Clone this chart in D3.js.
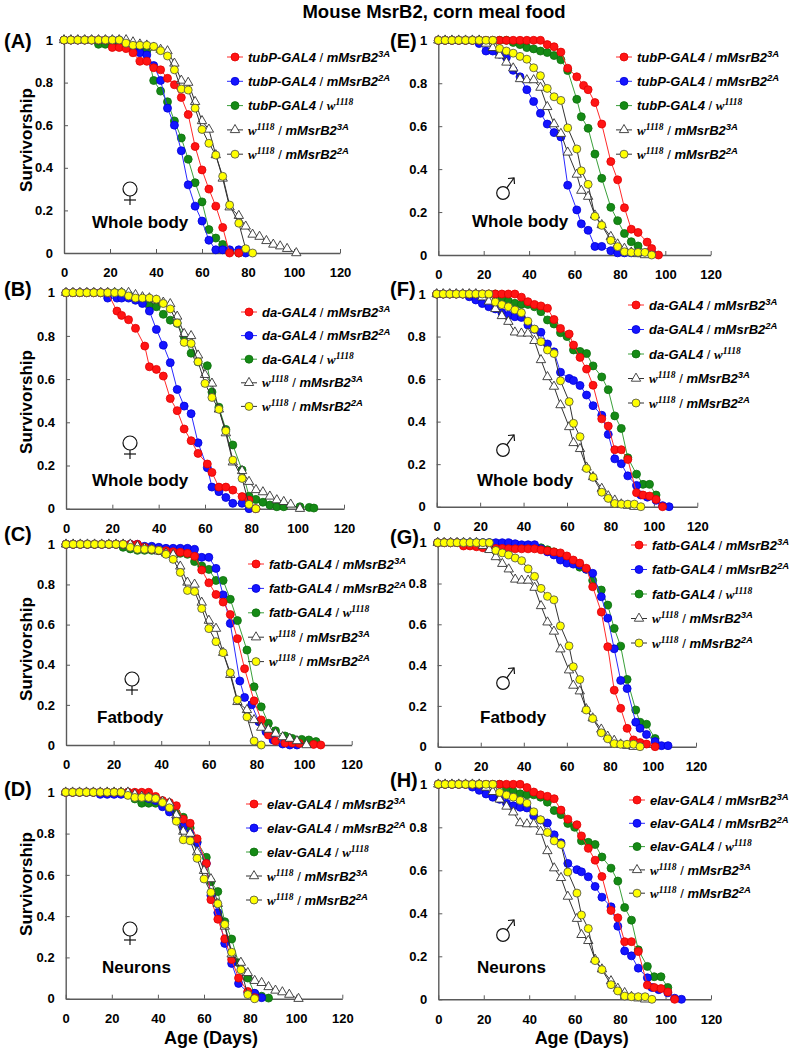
<!DOCTYPE html>
<html>
<head>
<meta charset="utf-8">
<script src="https://cdn.jsdelivr.net/npm/d3@7"></script>
<style>
  body { margin: 0; background: #fff; }
</style>
</head>
<body>
<svg id="fig" width="789" height="1050"></svg>
<script>
// ---- survival data, [age in days, survivorship] ----
// shared female controls (A-D)
var femW3A = [[0,1],[3,1],[6,1],[9,1],[12,1],[15,1],[18,1],[21,1],[24,1],[27,1],[30,0.99],[33,0.98],[36,0.975],[39,0.965],[42,0.955],[45,0.948],[48,0.89],[51,0.81],[54,0.8],[57,0.71],[60,0.62],[63,0.58],[66,0.46],[69,0.35],[72,0.215],[76,0.175],[79,0.125],[82,0.087],[85,0.077],[88,0.057],[91,0.04],[94,0.032],[97,0.02],[101,0]];
var femW2A = [[0,1],[3,1],[6,1],[9,1],[12,1],[15,1],[18,1],[21,1],[24,1],[27,0.985],[30,0.975],[33,0.975],[36,0.975],[39,0.97],[42,0.95],[45,0.925],[48,0.86],[51,0.77],[54,0.765],[57,0.68],[60,0.58],[63,0.515],[66,0.46],[69,0.36],[72,0.225],[76,0.14],[79,0.02],[82,0]];
// shared male controls (E-H)
var malW3A = [[0,1],[3,1],[6,1],[9,1],[12,1],[15,1],[18,1],[21,0.985],[24,0.965],[27,0.93],[30,0.897],[33,0.87],[36,0.82],[39,0.815],[42,0.815],[45,0.78],[48,0.69],[51,0.61],[54,0.565],[57,0.478],[61,0.375],[63,0.3],[66,0.272],[69,0.185],[72,0.14],[76,0.085],[79,0.05],[82,0.03],[85,0.012],[88,0.005],[91,0]];
var malW2A = [[0,1],[3,1],[6,1],[9,1],[12,1],[15,1],[18,1],[21,1],[24,1],[27,0.962],[30,0.95],[33,0.94],[36,0.925],[39,0.912],[42,0.872],[45,0.835],[48,0.776],[51,0.737],[54,0.72],[57,0.592],[61,0.494],[63,0.392],[66,0.329],[69,0.18],[72,0.138],[76,0.068],[79,0.039],[82,0.015],[85,0.012],[88,0.012],[91,0.012],[94,0]];

// (A) tubP female
var tubFemRed = [[0,1],[3,1],[6,1],[9,1],[12,1],[15,1],[18,1],[21,0.965],[24,0.965],[27,0.96],[30,0.94],[33,0.9],[36,0.9],[39,0.87],[42,0.86],[45,0.82],[48,0.79],[51,0.73],[54,0.65],[57,0.5],[60,0.39],[63,0.3],[66,0.22],[69,0.12],[72,0],[76,0]];
var tubFemBlue = [[0,1],[3,1],[6,1],[9,1],[12,1],[15,1],[18,1],[21,1],[24,1],[27,0.98],[30,0.96],[33,0.94],[36,0.93],[39,0.88],[42,0.81],[45,0.68],[48,0.6],[51,0.48],[54,0.32],[57,0.22],[60,0.15],[63,0.06],[66,0.015],[69,0.015],[72,0.015],[76,0.015],[79,0]];
var tubFemGreen = [[0,1],[3,1],[6,1],[9,1],[12,1],[15,0.98],[18,0.98],[21,0.98],[24,0.98],[27,0.975],[30,0.965],[33,0.96],[36,0.95],[39,0.81],[42,0.76],[45,0.71],[48,0.62],[51,0.54],[54,0.44],[57,0.33],[60,0.24],[63,0.11],[66,0.07],[69,0.04],[72,0.01],[76,0]];
// (E) tubP male
var tubMalRed = [[0,1],[3,1],[6,1],[9,1],[12,1],[15,1],[18,1],[21,1],[24,1],[27,1],[30,1],[33,1],[36,1],[39,1],[42,1],[45,1],[48,0.98],[51,0.97],[54,0.945],[57,0.87],[61,0.83],[64,0.79],[66,0.77],[69,0.71],[72,0.61],[76,0.435],[79,0.35],[82,0.22],[85,0.12],[88,0.105],[92,0.06],[94,0.03],[97,0]];
var tubMalBlue = [[0,1],[3,1],[6,1],[9,1],[12,1],[15,1],[18,0.985],[21,0.95],[24,0.95],[27,0.935],[30,0.92],[33,0.86],[36,0.83],[39,0.77],[42,0.715],[45,0.66],[48,0.61],[51,0.57],[54,0.55],[57,0.325],[61,0.21],[63,0.145],[66,0.115],[69,0.04],[72,0.04],[76,0.02],[79,0.01],[82,0.01],[85,0.01],[88,0.01],[91,0.01],[94,0.01]];
var tubMalGreen = [[0,1],[3,1],[6,1],[9,1],[12,1],[15,1],[18,1],[21,1],[24,1],[27,1],[30,1],[33,0.99],[36,0.98],[39,0.966],[42,0.96],[45,0.95],[48,0.943],[51,0.929],[54,0.909],[57,0.859],[61,0.725],[63,0.644],[66,0.59],[69,0.47],[72,0.357],[76,0.222],[79,0.16],[82,0.1],[85,0.062],[88,0.042],[92,0.011],[94,0.008]];
// (B) da female
var daFemRed = [[0,1],[3,1],[6,1],[9,1],[12,1],[15,1],[18,1],[22,0.915],[24,0.895],[27,0.875],[30,0.835],[34,0.753],[36,0.657],[39,0.645],[42,0.614],[45,0.51],[48,0.454],[51,0.369],[54,0.315],[57,0.256],[61,0.207],[63,0.168],[66,0.1],[69,0.1],[72,0.086],[76,0.056],[79,0.04],[82,0]];
var daFemBlue = [[0,1],[3,1],[6,1],[9,1],[12,1],[15,1],[18,0.975],[22,0.975],[24,0.975],[27,0.975],[30,0.965],[33,0.95],[36,0.915],[39,0.83],[42,0.757],[45,0.676],[48,0.552],[51,0.475],[54,0.44],[57,0.305],[61,0.19],[63,0.1],[66,0.079],[69,0.052],[72,0.025],[76,0.025],[79,0]];
var daFemGreen = [[0,1],[3,1],[6,1],[9,1],[12,1],[15,1],[18,1],[21,1],[24,1],[27,0.99],[30,0.975],[33,0.96],[36,0.94],[39,0.935],[42,0.9],[45,0.873],[48,0.858],[51,0.796],[54,0.72],[57,0.68],[61,0.662],[63,0.54],[66,0.47],[69,0.367],[72,0.295],[76,0.179],[79,0.058],[82,0.043],[85,0.03],[88,0.017],[91,0.009],[94,0.009],[101,0.009],[105,0.006],[107,0.003]];
// (F) da male, also shown again in (H)
var daMalRed = [[0,1],[3,1],[6,1],[9,1],[12,1],[15,1],[18,1],[21,1],[24,1],[27,1],[30,1],[33,1],[36,1],[39,0.985],[42,0.964],[45,0.951],[48,0.944],[51,0.933],[54,0.88],[57,0.838],[61,0.812],[63,0.76],[66,0.702],[69,0.647],[72,0.571],[76,0.413],[79,0.379],[82,0.268],[85,0.268],[88,0.222],[92,0.066],[95,0.055],[98,0.05],[101,0.034],[104,0]];
var daMalBlue = [[0,1],[3,1],[6,1],[9,1],[12,1],[15,0.987],[18,0.972],[21,0.955],[24,0.94],[27,0.93],[30,0.912],[33,0.9],[36,0.893],[39,0.89],[42,0.854],[45,0.834],[48,0.82],[51,0.765],[54,0.728],[57,0.632],[61,0.603],[63,0.593],[66,0.57],[69,0.525],[72,0.475],[76,0.43],[79,0.34],[82,0.225],[85,0.202],[88,0.145],[92,0.1],[94,0.055],[97,0.045],[101,0.03],[104,0.005],[107,0]];
var daMalGreen = [[0,1],[3,1],[6,1],[9,1],[12,1],[15,1],[18,1],[21,1],[24,1],[27,1],[30,0.98],[33,0.967],[36,0.956],[39,0.951],[42,0.951],[45,0.94],[48,0.917],[51,0.878],[54,0.859],[57,0.818],[60,0.8],[63,0.737],[66,0.73],[69,0.72],[72,0.662],[76,0.61],[79,0.55],[82,0.427],[85,0.368],[88,0.23],[92,0.153],[95,0.105],[98,0.105],[101,0.055]];
// (C) fatb female
var fatFemRed = [[0,1],[3,1],[6,1],[9,1],[12,1],[15,1],[18,1],[21,1],[24,1],[27,1],[30,1],[33,0.985],[36,0.975],[39,0.97],[42,0.968],[45,0.963],[48,0.96],[51,0.955],[54,0.94],[57,0.872],[60,0.808],[63,0.75],[66,0.712],[69,0.65],[72,0.53],[75,0.38],[79,0.22],[82,0.125],[85,0.05],[88,0.02],[92,0.01],[95,0.01],[98,0.008],[104,0.003],[107,0]];
var fatFemBlue = [[0,1],[3,1],[6,1],[9,1],[12,1],[15,1],[18,1],[21,1],[24,1],[27,1],[30,1],[33,0.99],[36,0.99],[39,0.985],[42,0.98],[45,0.98],[48,0.98],[51,0.98],[54,0.975],[57,0.935],[60,0.935],[63,0.88],[66,0.748],[69,0.606],[73,0.319],[75,0.237],[78,0.2],[81,0.116],[84,0.066],[87,0.025],[91,0.005],[94,0],[97,0]];
var fatFemGreen = [[0,1],[3,1],[6,1],[9,1],[12,1],[15,1],[18,1],[21,1],[24,0.985],[27,0.977],[30,0.97],[33,0.97],[36,0.97],[39,0.968],[42,0.965],[45,0.96],[48,0.955],[51,0.95],[54,0.914],[57,0.892],[60,0.875],[63,0.82],[66,0.82],[69,0.726],[72,0.62],[76,0.473],[79,0.29],[82,0.19],[85,0.108],[88,0.071],[92,0.045],[95,0.033],[99,0.028],[102,0.025],[105,0.017]];
// (G) fatb male
var fatMalRed = [[0,1],[3,1],[6,1],[9,1],[12,0.984],[15,0.984],[18,0.98],[21,0.975],[24,0.975],[27,0.972],[30,0.972],[33,0.97],[36,0.97],[39,0.97],[42,0.97],[45,0.97],[48,0.965],[51,0.96],[54,0.955],[57,0.95],[60,0.935],[63,0.915],[66,0.9],[69,0.875],[72,0.784],[76,0.66],[79,0.49],[82,0.277],[85,0.188],[88,0.09],[91,0.033],[94,0.02],[97,0.013],[101,0]];
var fatMalBlue = [[0,1],[3,1],[6,1],[9,1],[12,1],[15,1],[18,1],[21,1],[24,1],[27,1],[30,1],[33,1],[36,0.995],[39,0.99],[42,0.99],[45,0.99],[48,0.97],[51,0.955],[54,0.94],[57,0.915],[60,0.9],[63,0.895],[66,0.89],[69,0.87],[72,0.85],[76,0.735],[79,0.63],[82,0.48],[85,0.325],[88,0.285],[92,0.12],[94,0.09],[97,0.06],[101,0.025],[104,0.005],[107,0.005]];
var fatMalGreen = [[0,1],[3,1],[6,1],[9,1],[12,1],[15,1],[18,1],[21,1],[24,1],[27,0.99],[30,0.99],[33,0.99],[36,0.985],[39,0.985],[42,0.98],[45,0.98],[48,0.975],[51,0.965],[54,0.955],[57,0.93],[60,0.91],[63,0.9],[66,0.88],[69,0.87],[72,0.815],[76,0.768],[79,0.694],[82,0.58],[85,0.493],[88,0.33],[92,0.18],[94,0.12],[97,0.11],[101,0.04]];
// (D) elav female
var elavFemRed = [[0,1],[3,1],[6,1],[9,1],[12,1],[15,1],[18,1],[21,1],[24,1],[27,1],[30,1],[33,1],[36,1],[39,0.98],[42,0.96],[45,0.95],[48,0.935],[51,0.87],[54,0.85],[57,0.775],[61,0.655],[63,0.48],[66,0.385],[69,0.29],[72,0.19],[75,0.1],[79,0.035],[82,0.005]];
var elavFemBlue = [[0,1],[3,1],[6,1],[9,1],[12,1],[15,0.99],[18,0.99],[21,0.99],[24,0.99],[27,0.99],[30,0.985],[33,0.98],[36,0.97],[39,0.96],[42,0.93],[45,0.905],[48,0.87],[51,0.834],[54,0.8],[57,0.756],[61,0.655],[63,0.5],[66,0.417],[69,0.268],[72,0.171],[75,0.074],[79,0.03],[82,0.026],[85,0.005]];
var elavFemGreen = [[0,1],[3,1],[6,1],[9,1],[12,1],[15,1],[18,1],[21,1],[24,1],[27,1],[30,0.968],[33,0.947],[36,0.947],[39,0.947],[42,0.945],[45,0.922],[48,0.9],[51,0.879],[54,0.827],[57,0.761],[61,0.685],[63,0.567],[66,0.519],[69,0.373],[72,0.289],[75,0.174],[79,0.1],[82,0.025],[85,0.012],[88,0.003]];

var xTicks = [0, 20, 40, 60, 80, 100, 120];
var yTicks = [0, 0.2, 0.4, 0.6, 0.8, 1];

var FONT = "'Liberation Sans', Arial, Helvetica, sans-serif";

var styles = {
  red:   {line: '#ff2a2a', fill: '#ff1414', stroke: '#e00000', shape: 'circle'},
  blue:  {line: '#2a2aff', fill: '#1414ff', stroke: '#0000d8', shape: 'circle'},
  green: {line: '#3aa03a', fill: '#158a15', stroke: '#0d700d', shape: 'circle'},
  tri:   {line: '#333333', fill: '#ffffff', stroke: '#333333', shape: 'triangle'},
  yel:   {line: '#333333', fill: '#ffff00', stroke: '#4a4a4a', shape: 'circle'}
};

var panels = [
  {tag: '(A)', tagX: 4, tagY: 48, left: 64, right: 340, top: 40, bottom: 253, driver: 'tubP-GAL4', female: true,
   tissue: 'Whole body', tissueX: 92, tissueY: 222, sexX: 130, sexY: 193, legX: 235, legY: 57, legDy: 24.3, yTitleY: 140,
   red: tubFemRed, blue: tubFemBlue, green: tubFemGreen, tri: femW3A, yel: femW2A},
  {tag: '(B)', tagX: 4, tagY: 296, left: 66, right: 344, top: 292.7, bottom: 508.7, driver: 'da-GAL4', female: true,
   tissue: 'Whole body', tissueX: 92, tissueY: 480, sexX: 130, sexY: 447, legX: 249, legY: 312, legDy: 23.6, yTitleY: 402,
   red: daFemRed, blue: daFemBlue, green: daFemGreen, tri: femW3A, yel: femW2A},
  {tag: '(C)', tagX: 4, tagY: 541, left: 66, right: 351.7, top: 544.3, bottom: 745, driver: 'fatb-GAL4', female: true,
   tissue: 'Fatbody', tissueX: 97, tissueY: 717, sexX: 132, sexY: 683, legX: 256, legY: 564, legDy: 24.4, yTitleY: 649,
   red: fatFemRed, blue: fatFemBlue, green: fatFemGreen, tri: femW3A, yel: femW2A},
  {tag: '(D)', tagX: 4, tagY: 796, left: 65.7, right: 342.3, top: 792.3, bottom: 998.7, driver: 'elav-GAL4', female: true,
   tissue: 'Neurons', tissueX: 102, tissueY: 967, sexX: 130, sexY: 933, legX: 254, legY: 804, legDy: 24, yTitleY: 884,
   red: elavFemRed, blue: elavFemBlue, green: elavFemGreen, tri: femW3A, yel: femW2A, xTitle: true},
  {tag: '(E)', tagX: 390, tagY: 48, left: 438.3, right: 710.7, top: 40.3, bottom: 255, driver: 'tubP-GAL4', female: false,
   tissue: 'Whole body', tissueX: 472, tissueY: 221, sexX: 505, sexY: 188, legX: 624, legY: 57, legDy: 24.3,
   red: tubMalRed, blue: tubMalBlue, green: tubMalGreen, tri: malW3A, yel: malW2A},
  {tag: '(F)', tagX: 390, tagY: 296, left: 436.7, right: 697.3, top: 294, bottom: 506.7, driver: 'da-GAL4', female: false,
   tissue: 'Whole body', tissueX: 477, tissueY: 480, sexX: 505, sexY: 445, legX: 636, legY: 305, legDy: 24.5,
   red: daMalRed, blue: daMalBlue, green: daMalGreen, tri: malW3A, yel: malW2A},
  {tag: '(G)', tagX: 390, tagY: 544, left: 437.7, right: 696, top: 542.7, bottom: 746.7, driver: 'fatb-GAL4', female: false,
   tissue: 'Fatbody', tissueX: 480, tissueY: 717, sexX: 505, sexY: 678, legX: 639, legY: 545, legDy: 24.5,
   red: fatMalRed, blue: fatMalBlue, green: fatMalGreen, tri: malW3A, yel: malW2A},
  {tag: '(H)', tagX: 390, tagY: 787, left: 438.3, right: 711, top: 784.3, bottom: 999.3, driver: 'elav-GAL4', female: false,
   tissue: 'Neurons', tissueX: 477, tissueY: 967, sexX: 505, sexY: 930, legX: 637, legY: 800, legDy: 23.3,
   red: daMalRed, blue: daMalBlue, green: daMalGreen, tri: malW3A, yel: malW2A, xTitle: true}
];

var svg = d3.select("#fig");

svg.append("text")
  .attr("x", 434).attr("y", 18)
  .attr("text-anchor", "middle")
  .style("font-family", FONT).style("font-weight", "bold").style("font-size", "18.5px")
  .text("Mouse MsrB2, corn meal food");

function styleAxis(sel) {
  sel.attr("font-family", null).attr("font-size", null);
  sel.select(".domain").attr("stroke", "#5a5a5a").attr("stroke-width", 1.4);
  sel.selectAll(".tick line").attr("stroke", "#5a5a5a").attr("stroke-width", 1);
  sel.selectAll(".tick text")
    .style("font-family", FONT).style("font-weight", "bold").style("font-size", "13px")
    .attr("fill", "#000");
}

function drawMarkers(g, pts, st) {
  if (st.shape == 'circle') {
    g.selectAll(null).data(pts).enter().append("circle")
      .attr("cx", function(d) { return d[0]; })
      .attr("cy", function(d) { return d[1]; })
      .attr("r", 4)
      .attr("fill", st.fill).attr("stroke", st.stroke).attr("stroke-width", 0.8);
  } else {
    var tri = d3.symbol().type(d3.symbolTriangle).size(38);
    g.selectAll(null).data(pts).enter().append("path")
      .attr("d", tri)
      .attr("transform", function(d) { return "translate(" + d[0] + "," + d[1] + ")"; })
      .attr("fill", st.fill).attr("stroke", st.stroke).attr("stroke-width", 0.9);
  }
}

// thin outline sex signs
function drawSex(female, cx, cy) {
  var s = svg.append("g")
    .attr("fill", "none").attr("stroke", "#111").attr("stroke-width", 1.2);
  if (female) {
    s.append("circle").attr("cx", cx).attr("cy", cy - 4).attr("r", 7);
    s.append("line").attr("x1", cx).attr("x2", cx).attr("y1", cy + 3).attr("y2", cy + 12);
    s.append("line").attr("x1", cx - 6).attr("x2", cx + 6).attr("y1", cy + 7).attr("y2", cy + 7);
  } else {
    var ox = cx - 2, oy = cy + 5, r = 6.3;
    s.append("circle").attr("cx", ox).attr("cy", oy).attr("r", r);
    var tx = cx + 9, ty = cy - 10;
    s.append("line")
      .attr("x1", ox + r * 0.6).attr("y1", oy - r * 0.8)
      .attr("x2", tx).attr("y2", ty);
    s.append("polyline")
      .attr("points", (tx - 6) + "," + (ty + 0.5) + " " + tx + "," + ty + " " + (tx + 0.5) + "," + (ty + 6));
  }
}

// legend label pieces
function legendParts(key, driver) {
  var w = {t: 'w', serif: true}, w1118 = {t: '1118', sup: true, serif: true};
  var slash = {t: ' / ', plain: true};
  if (key == 'red') return [{t: driver}, slash, {t: 'mMsrB2'}, {t: '3A', sup: true}];
  if (key == 'blue') return [{t: driver}, slash, {t: 'mMsrB2'}, {t: '2A', sup: true}];
  if (key == 'green') return [{t: driver}, slash, w, w1118];
  if (key == 'tri') return [w, w1118, slash, {t: 'mMsrB2'}, {t: '3A', sup: true}];
  return [w, w1118, slash, {t: 'mMsrB2'}, {t: '2A', sup: true}];
}

var drawOrder = ['green', 'blue', 'red', 'tri', 'yel'];
var legendOrder = ['red', 'blue', 'green', 'tri', 'yel'];

panels.forEach(function(p) {
  var g = svg.append("g");

  var x = d3.scaleLinear().domain([0, 120]).range([p.left, p.right]);
  var y = d3.scaleLinear().domain([0, 1]).range([p.bottom, p.top]);

  g.append("g")
    .attr("transform", "translate(0," + p.bottom + ")")
    .call(d3.axisBottom(x).tickValues(xTicks).tickSizeInner(-4).tickSizeOuter(0).tickPadding(15))
    .call(styleAxis);

  g.append("g")
    .attr("transform", "translate(" + p.left + ",0)")
    .call(d3.axisLeft(y).tickValues(yTicks)
      .tickFormat(function(d) { return (d == 0 || d == 1) ? String(d) : d.toFixed(1); })
      .tickSizeInner(-4).tickSizeOuter(0).tickPadding(11))
    .call(styleAxis);

  var line = d3.line()
    .x(function(d) { return x(d[0]); })
    .y(function(d) { return y(d[1]); });

  drawOrder.forEach(function(k) {
    var st = styles[k];
    g.append("path")
      .datum(p[k])
      .attr("d", line)
      .attr("fill", "none")
      .attr("stroke", st.line)
      .attr("stroke-width", 1);
    drawMarkers(g, p[k].map(function(d) { return [x(d[0]), y(d[1])]; }), st);
  });

  // legend
  legendOrder.forEach(function(k, i) {
    var st = styles[k];
    var cy = p.legY + i * p.legDy;
    g.append("line")
      .attr("x1", p.legX - 8).attr("x2", p.legX + 8)
      .attr("y1", cy).attr("y2", cy)
      .attr("stroke", st.line).attr("stroke-width", 1);
    drawMarkers(g, [[p.legX, cy]], st);

    var txt = g.append("text")
      .attr("x", p.legX + 13).attr("y", cy + 4.6)
      .style("font-family", FONT).style("font-size", "13px")
      .style("font-weight", "bold").style("font-style", "italic");
    var raised = false;
    legendParts(k, p.driver).forEach(function(part) {
      var ts = txt.append("tspan").text(part.t);
      if (part.sup) {
        ts.attr("dy", -5).style("font-size", "9.5px");
        raised = true;
      } else if (raised) {
        ts.attr("dy", 5);
        raised = false;
      }
      if (part.serif) ts.style("font-family", "'Liberation Serif', 'Times New Roman', serif");
      if (part.plain) ts.style("font-style", "normal").style("font-weight", "normal");
    });
  });

  // panel tag
  svg.append("text")
    .attr("x", p.tagX).attr("y", p.tagY)
    .style("font-family", FONT).style("font-weight", "bold").style("font-size", "20px")
    .text(p.tag);

  drawSex(p.female, p.sexX, p.sexY);

  // tissue label
  svg.append("text")
    .attr("x", p.tissueX).attr("y", p.tissueY + 6)
    .style("font-family", FONT).style("font-weight", "bold").style("font-size", "17px")
    .text(p.tissue);

  if (p.yTitleY) {
    svg.append("text")
      .attr("transform", "translate(32," + p.yTitleY + ") rotate(-90)")
      .attr("text-anchor", "middle")
      .style("font-family", FONT).style("font-weight", "bold").style("font-size", "17px")
      .text("Survivorship");
  }

  if (p.xTitle) {
    svg.append("text")
      .attr("x", (p.left + p.right) / 2 + 7).attr("y", 1044)
      .attr("text-anchor", "middle")
      .style("font-family", FONT).style("font-weight", "bold").style("font-size", "18px")
      .text("Age (Days)");
  }
});
</script>
</body>
</html>
